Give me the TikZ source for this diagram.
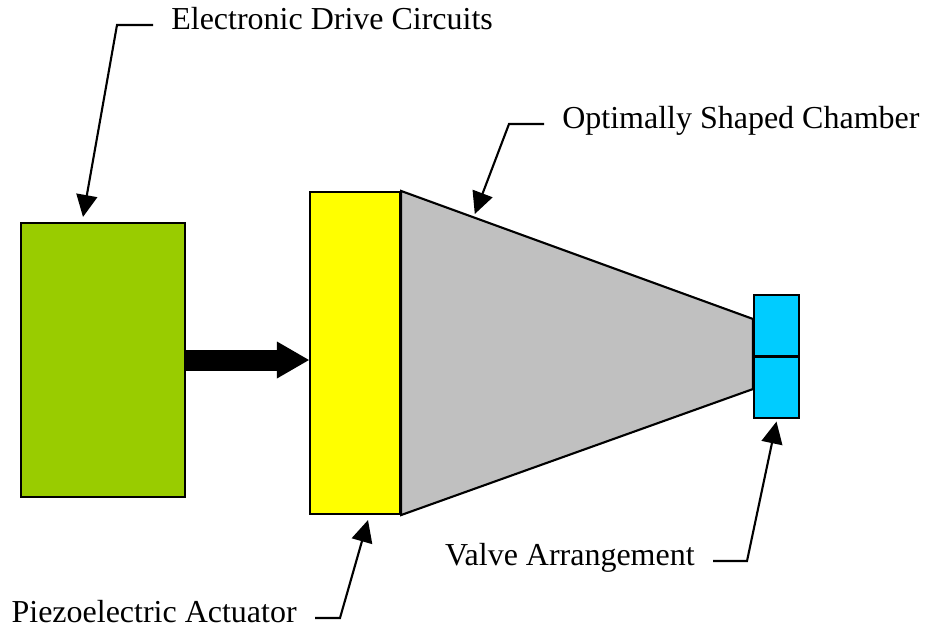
\documentclass[tikz,border=0pt]{standalone}
\usepackage{fontspec}
\setmainfont{Liberation Serif}
\usetikzlibrary{positioning,arrows.meta,calc,backgrounds}
\definecolor{drivegreen}{RGB}{153,204,0}
\definecolor{piezoyellow}{RGB}{255,255,0}
\definecolor{chambergray}{RGB}{192,192,192}
\definecolor{valvecyan}{RGB}{0,204,255}

\begin{document}
\begin{tikzpicture}[
  >={Triangle[length=4.4mm,width=4.2mm]},
  block/.style={draw=black,line width=1.2pt,inner sep=0pt},
  lab/.style={font=\fontsize{18.2}{22}\selectfont,inner xsep=3.6mm,inner ysep=2pt},
  leader/.style={line width=1.2pt,->},
  push/.style={line width=4.2mm,-{Triangle[length=6.4mm,width=7.4mm,line width=0pt]}}
]
\useasboundingbox (0,0) rectangle (18.5,-12.66);

% Drive electronics and actuator
\node[block,fill=drivegreen,minimum width=3.28cm,minimum height=5.48cm] (drive) at (2.06,-7.2) {};
\node[block,fill=piezoyellow,minimum width=1.8cm,minimum height=6.44cm] (piezo) at (7.1,-7.06) {};

% Valve pair at the narrow end
\node[block,fill=valvecyan,minimum width=0.9cm,minimum height=1.23cm] (valvetop) at (15.53,-6.515) {};
\node[block,fill=valvecyan,minimum width=0.9cm,minimum height=1.23cm,below=-1.2pt of valvetop] (valvebot) {};
\coordinate (nozzletop) at ([yshift=-5mm]valvetop.north west);
\coordinate (nozzlebot) at ([yshift=6mm]valvebot.south west);

% Chamber (behind the blocks)
\begin{scope}[on background layer]
\draw[line width=1.2pt,fill=chambergray] (piezo.north east) -- (nozzletop) -- (nozzlebot) -- (piezo.south east) -- cycle;
\end{scope}

% Drive signal
\draw[push] (drive.east) -- (drive.east -| piezo.west);

% Labels with leaders
\node[lab,anchor=mid west] (drivelab) at (3.06,-0.5) {Electronic Drive Circuits};
\draw[leader] (drivelab.mid west) -- ++(-0.72,0) -- ([xshift=-4mm,yshift=1mm]drive.north);

\node[lab,anchor=mid west] (chamberlab) at (10.88,-2.48) {Optimally Shaped Chamber};
\draw[leader,shorten >=2pt] (chamberlab.mid west) -- ++(-0.7,0) -- ($(piezo.north east)!0.206!(nozzletop)$);

\node[lab,anchor=mid east] (piezolab) at (6.3,-12.36) {Piezoelectric Actuator};
\draw[leader] (piezolab.mid east) -- ++(0.5,0) -- ([xshift=2.6mm,yshift=-1mm]piezo.south);

\node[lab,anchor=mid east] (valvelab) at (14.26,-11.22) {Valve Arrangement};
\draw[leader] (valvelab.mid east) -- ++(0.68,0) -- ([yshift=-0.5mm]valvebot.south);

\end{tikzpicture}
\end{document}
